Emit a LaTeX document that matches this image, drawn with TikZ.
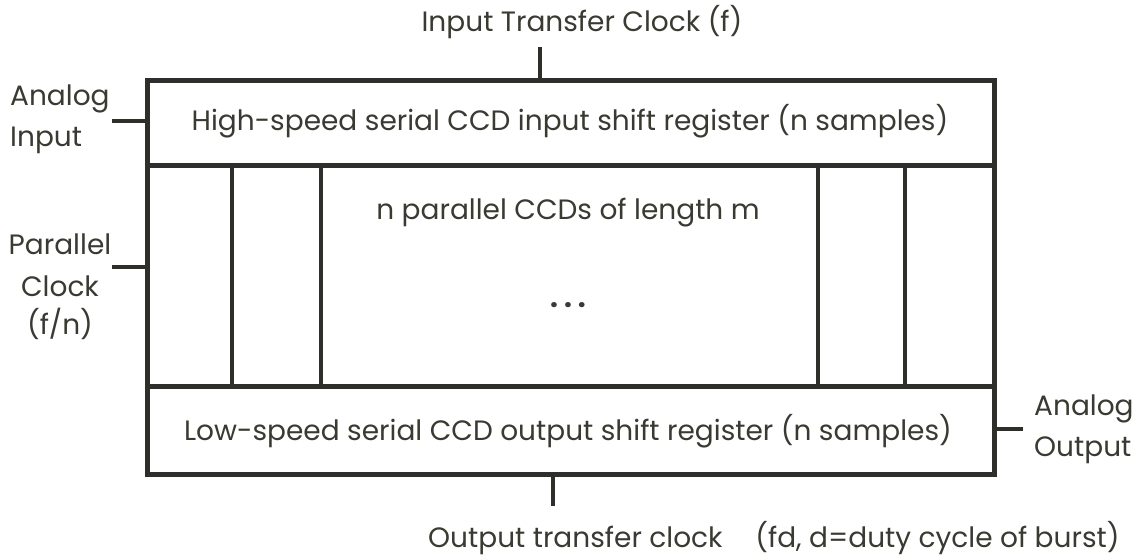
\documentclass[tikz,border=0pt]{standalone}
\usepackage{fontspec}
\setmainfont{Poppins}
\definecolor{ink}{HTML}{2E2E2A}
\definecolor{txt}{HTML}{3A3A32}
\begin{document}
\begin{tikzpicture}[x=1pt,y=-1pt,
  box/.style={draw=ink,line width=4.5pt,inner sep=0pt},
  lbl/.style={text=txt,font=\fontsize{28}{34}\selectfont,inner sep=0pt},
  wire/.style={draw=ink,line width=4.5pt},
  colline/.style={draw=ink,line width=4.5pt}]
\useasboundingbox (0,0) rectangle (1145,557);
\fill[white] (0,0) rectangle (1145,557);
% boxes
\node[box,minimum width=847pt,minimum height=85pt,anchor=north west] (inreg) at (145,78) {};
\node[box,minimum width=847pt,minimum height=88pt,anchor=north west] (outreg) at (145,384) {};
\node[box,minimum width=847pt,minimum height=221pt,anchor=north west] (par) at (145,163) {};
% column lines
\foreach \x/\n in {232/c1,321/c2,818/c3,905/c4}{
  \coordinate (\n t) at (\x,163);
  \coordinate (\n b) at (\x,384);
  \draw[colline] (\n t) -- (\n b);
}
% texts
\node[lbl] (intext) at (570,121) {High-speed serial CCD input shift register (n samples)};
\node[lbl] (ptext) at (568,213) {n parallel CCDs of length m};
\node[lbl,font=\fontsize{28}{34}\selectfont\bfseries] (dots) at (568,305) {.\hspace{6pt}.\hspace{6pt}.};
\node[lbl] (outtext) at (568,431) {Low-speed serial CCD output shift register (n samples)};
% external labels
\node[lbl] (itc) at (582,22) {Input Transfer Clock (f)};
\node[lbl,align=left,anchor=west] (ain) at (10,119) {Analog\\[7pt]Input};
\node[lbl,align=center] (pclk) at (60,287) {Parallel\\[8pt]Clock\\[4pt](f/n)};
\node[lbl,align=left,anchor=west] (aout) at (1034,429) {Analog\\[7pt]Output};
\node[lbl,anchor=west] (otc) at (428,538) {Output transfer clock\hspace{0.9em} (fd, d=duty cycle of burst)};
% ticks
\coordinate (itcend) at (540,47);
\draw[wire] (inreg.north -| itcend) -- (itcend);
\coordinate (ainend) at (112,121);
\draw[wire] (inreg.west |- ainend) -- (ainend);
\coordinate (pend) at (112,267);
\draw[wire] (par.west |- pend) -- (pend);
\coordinate (aoend) at (1023,429);
\draw[wire] (outreg.east |- aoend) -- (aoend);
\coordinate (otend) at (553,506);
\draw[wire] (outreg.south -| otend) -- (otend);
\end{tikzpicture}
\end{document}
